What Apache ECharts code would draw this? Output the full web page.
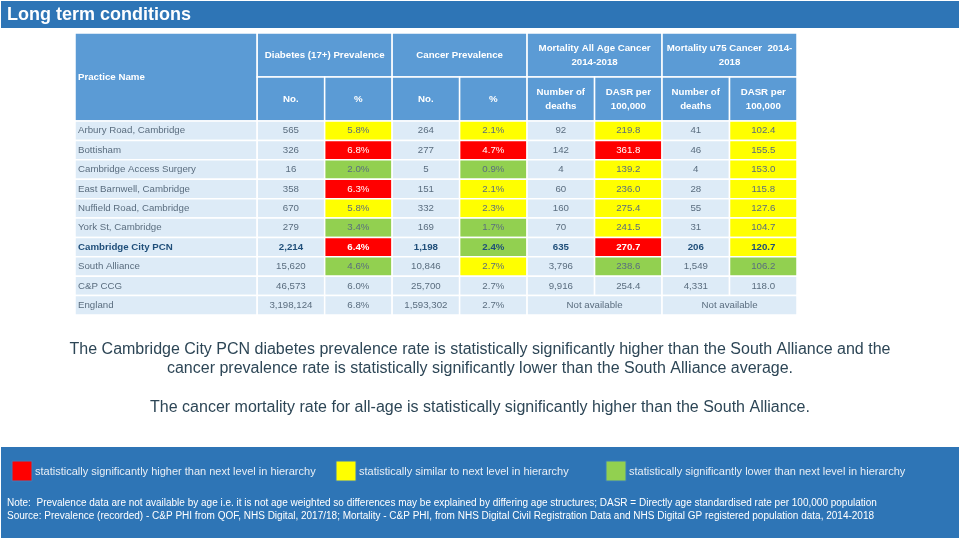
<!DOCTYPE html>
<html><head><meta charset="utf-8">
<script src="https://cdn.jsdelivr.net/npm/echarts@6/dist/echarts.min.js"></script>
<style>html,body{margin:0;padding:0;background:#fff}#c{width:960px;height:540px}</style>
</head><body><div id="c"></div>
<script>
// ---- data ----
const practices = ['Arbury Road, Cambridge','Bottisham','Cambridge Access Surgery','East Barnwell, Cambridge','Nuffield Road, Cambridge','York St, Cambridge','Cambridge City PCN','South Alliance','C&P CCG','England'];
const diabetesNo = [565,326,16,358,670,279,2214,15620,46573,3198124];
const diabetesPct = [5.8,6.8,2.0,6.3,5.8,3.4,6.4,4.6,6.0,6.8];
const cancerNo = [264,277,5,151,332,169,1198,10846,25700,1593302];
const cancerPct = [2.1,4.7,0.9,2.1,2.3,1.7,2.4,2.7,2.7,2.7];
const mortAllDeaths = [92,142,4,60,160,70,635,3796,9916,null];
const mortAllDasr = [219.8,361.8,139.2,236.0,275.4,241.5,270.7,238.6,254.4,null];
const mortU75Deaths = [41,46,4,28,55,31,206,1549,4331,null];
const mortU75Dasr = [102.4,155.5,153.0,115.8,127.6,104.7,120.7,106.2,118.0,null];
// significance: H higher, S similar, L lower
const diabetesSig = ['S','H','L','H','S','L','H','L',null,null];
const cancerSig = ['S','H','L','S','S','L','L','S',null,null];
const mortAllSig = ['S','H','S','S','S','S','H','L',null,null];
const mortU75Sig = ['S','S','S','S','S','S','S','L',null,null];
const groupHeaders = ['Diabetes (17+) Prevalence','Cancer Prevalence','Mortality All Age Cancer\n2014-2018','Mortality u75 Cancer  2014-\n2018'];
const subHeaders = ['No.','%','No.','%','Number of\ndeaths','DASR per\n100,000','Number of\ndeaths','DASR per\n100,000'];
const boldRow = 'Cambridge City PCN';
const notAvailable = 'Not available';
const legendLabels = ['statistically significantly higher than next level in hierarchy','statistically similar to next level in hierarchy','statistically significantly lower than next level in hierarchy'];
const paragraph1 = ['The Cambridge City PCN diabetes prevalence rate is statistically significantly higher than the South Alliance and the','cancer prevalence rate is statistically significantly lower than the South Alliance average.'];
const paragraph2 = 'The cancer mortality rate for all-age is statistically significantly higher than the South Alliance.';
const noteLines = ['Note:  Prevalence data are not available by age i.e. it is not age weighted so differences may be explained by differing age structures; DASR = Directly age standardised rate per 100,000 population','Source: Prevalence (recorded) - C&P PHI from QOF, NHS Digital, 2017/18; Mortality - C&P PHI, from NHS Digital Civil Registration Data and NHS Digital GP registered population data, 2014-2018'];

// ---- layout / styles ----
const SIG_COLORS = {H:'#FF0000', S:'#FFFF00', L:'#92D050'};
const HEAD_BG = '#5B9BD5', CELL_BG = '#DDEBF7', BAND = '#2E75B6';
const TXT = '#5a6d7f', BOLD_TXT = '#1F4E79';
const COLS = [0,2.7,3.7,4.7,5.7,6.7,7.7,8.7,9.7,10.7];
const HDR = 2.27;
const NROWS = practices.length;
const YMAX = 2*HDR + NROWS;

const fmtInt = v => v.toLocaleString('en-GB');
const fmtPct = v => v.toFixed(1) + '%';
const fmt1 = v => v.toFixed(1);

const cells = [];
function add(c0, c1, y0, y1, text, opt) {
  cells.push(Object.assign({x0:COLS[c0], x1:COLS[c1], y0:y0, y1:y1, text:text, fill:CELL_BG, color:TXT, bold:false, align:'center', size:9.7}, opt||{}));
}
// headers
add(0,1,0,2*HDR,'Practice Name',{fill:HEAD_BG,color:'#fff',bold:true,align:'left'});
groupHeaders.forEach((g,i)=>add(1+2*i,3+2*i,0,HDR,g,{fill:HEAD_BG,color:'#fff',bold:true}));
subHeaders.forEach((s,i)=>add(1+i,2+i,HDR,2*HDR,s,{fill:HEAD_BG,color:'#fff',bold:true}));
// body
practices.forEach((p,r)=>{
  const y0 = 2*HDR + r, y1 = y0 + 1;
  const b = p === boldRow;
  const base = {bold:b, color: b ? BOLD_TXT : TXT};
  const sigCell = (sig) => sig ? {fill:SIG_COLORS[sig], color: sig==='H' ? '#fff' : (b ? BOLD_TXT : TXT)} : {};
  add(0,1,y0,y1,p,Object.assign({},base,{align:'left'}));
  add(1,2,y0,y1,fmtInt(diabetesNo[r]),base);
  add(2,3,y0,y1,fmtPct(diabetesPct[r]),Object.assign({},base,sigCell(diabetesSig[r])));
  add(3,4,y0,y1,fmtInt(cancerNo[r]),base);
  add(4,5,y0,y1,fmtPct(cancerPct[r]),Object.assign({},base,sigCell(cancerSig[r])));
  if (mortAllDeaths[r] == null) {
    add(5,7,y0,y1,notAvailable,base);
  } else {
    add(5,6,y0,y1,fmtInt(mortAllDeaths[r]),base);
    add(6,7,y0,y1,fmt1(mortAllDasr[r]),Object.assign({},base,sigCell(mortAllSig[r])));
  }
  if (mortU75Deaths[r] == null) {
    add(7,9,y0,y1,notAvailable,base);
  } else {
    add(7,8,y0,y1,fmtInt(mortU75Deaths[r]),base);
    add(8,9,y0,y1,fmt1(mortU75Dasr[r]),Object.assign({},base,sigCell(mortU75Sig[r])));
  }
});

const chart = echarts.init(document.getElementById('c'), null, {renderer:'canvas'});
const FONT = 'Liberation Sans, Arial, sans-serif';
const PARA = '#2d4656';

const graphics = [
  {type:'rect', shape:{x:1,y:1,width:958,height:27}, style:{fill:BAND}},
  {type:'text', x:7, y:15, style:{text:'Long term conditions', fill:'#fff', font:'bold 18px '+FONT, verticalAlign:'middle'}},
  {type:'rect', shape:{x:1,y:447,width:958,height:91}, style:{fill:BAND}},
  {type:'text', x:480, y:350, style:{text:paragraph1[0], fill:PARA, font:'16px '+FONT, align:'center', verticalAlign:'middle'}},
  {type:'text', x:480, y:369, style:{text:paragraph1[1], fill:PARA, font:'16px '+FONT, align:'center', verticalAlign:'middle'}},
  {type:'text', x:480, y:408, style:{text:paragraph2, fill:PARA, font:'16px '+FONT, align:'center', verticalAlign:'middle'}}
];
const legX = [12, 336, 606];
['H','S','L'].forEach((k,i)=>{
  graphics.push({type:'rect', shape:{x:legX[i],y:461,width:20,height:20}, style:{fill:SIG_COLORS[k], stroke:'#3a7fbd', lineWidth:1}});
  graphics.push({type:'text', x:legX[i]+23, y:472, style:{text:legendLabels[i], fill:'#e8eef5', font:'11px '+FONT, verticalAlign:'middle'}});
});
noteLines.forEach((t,i)=>graphics.push({type:'text', x:7, y:503+i*13, style:{text:t, fill:'#fff', font:'10px '+FONT, verticalAlign:'middle'}}));

chart.setOption({
  animation:false,
  grid:{left:75, right:163, top:33, bottom:225},
  xAxis:{type:'value', min:0, max:COLS[COLS.length-1], show:false},
  yAxis:{type:'value', min:0, max:YMAX, inverse:true, show:false},
  graphic:graphics,
  series:[{
    type:'custom',
    data: cells.map(c=>[c.x0,c.x1,c.y0,c.y1]),
    encode:{x:[0,1], y:[2,3]},
    renderItem:function(params, api){
      const c = cells[params.dataIndex];
      const p0 = api.coord([api.value(0), api.value(2)]);
      const p1 = api.coord([api.value(1), api.value(3)]);
      const w = p1[0]-p0[0], h = p1[1]-p0[1];
      return {type:'group', children:[
        {type:'rect', shape:{x:p0[0], y:p0[1], width:w, height:h}, style:{fill:c.fill, stroke:'#fff', lineWidth:1.5}},
        {type:'text', x: c.align==='left' ? p0[0]+3 : p0[0]+w/2, y:p0[1]+h/2,
          style:{text:c.text, fill:c.color, font:(c.bold?'bold ':'')+c.size+'px '+FONT, align:c.align, verticalAlign:'middle', lineHeight:14}}
      ]};
    }
  }]
});
</script></body></html>
